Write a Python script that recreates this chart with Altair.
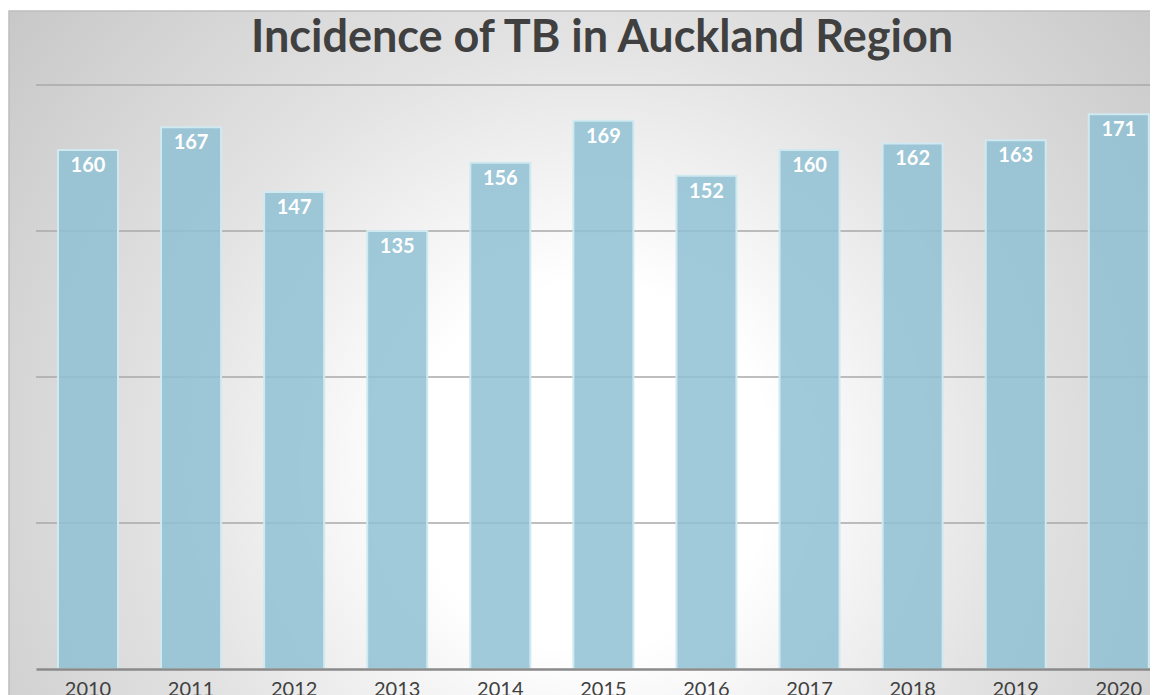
import altair as alt
import pandas as pd

# ---- data ----
years = ["2010", "2011", "2012", "2013", "2014", "2015", "2016", "2017", "2018", "2019", "2020"]
cases = [160, 167, 147, 135, 156, 169, 152, 160, 162, 163, 171]
grid_values = [45, 90, 135, 180]
y_domain = [0, 180]
title_text = "Incidence of TB in Auckland Region"

W = 1114
H = 584

df = pd.DataFrame({"year": years, "cases": cases})
grid_df = pd.DataFrame({"v": grid_values})

x_scale = alt.Scale(domain=years, paddingInner=0.418, paddingOuter=0.1125, align=0.948, round=False)
y_scale = alt.Scale(domain=y_domain, nice=False, zero=True)

x_axis = alt.Axis(
    labelAngle=0, labelFont="Lato", labelFontSize=20, labelColor="#404040",
    ticks=False, domainColor="#8a8a8a", domainWidth=2.5, labelPadding=10,
    grid=False, zindex=1, title=None,
)

bg_fill = {
    "gradient": "radial",
    "x1": 0.4648, "y1": 0.56, "r1": 0,
    "x2": 0.4648, "y2": 0.56, "r2": 0.608,
    "stops": [
        {"offset": 0.0, "color": "#ffffff"},
        {"offset": 0.24, "color": "#ffffff"},
        {"offset": 0.56, "color": "#e3e3e3"},
        {"offset": 1.0, "color": "#c6c6c6"},
    ],
}

bg = alt.Chart(alt.Data(values=[{"a": 1}])).mark_rect(
    fill=bg_fill, stroke="#bdbdbd", strokeWidth=1.5
).encode(
    x=alt.value(-27), x2=alt.value(1223), y=alt.value(-74), y2=alt.value(686)
)

title = alt.Chart(alt.Data(values=[{"a": 1}])).mark_text(
    font="Lato", fontSize=45, fontWeight="bold", color="#404040",
    align="center", baseline="alphabetic",
).encode(
    x=alt.value(566), y=alt.value(-33), text=alt.value(title_text)
)

rules = alt.Chart(grid_df).mark_rule(color="#a9a9a9", strokeWidth=1.6).encode(
    y=alt.Y("v:Q", scale=y_scale, axis=None)
)

bars = alt.Chart(df).mark_bar(
    fill="#8fbfd2", fillOpacity=0.85, stroke="#d0e9f1", strokeWidth=2
).encode(
    x=alt.X("year:N", scale=x_scale, sort=years, axis=x_axis),
    y=alt.Y("cases:Q", scale=y_scale, axis=None),
)

labels = alt.Chart(df).mark_text(
    font="Lato", fontSize=20, fontWeight="bold", color="white", baseline="alphabetic", dy=22
).encode(
    x=alt.X("year:N", scale=x_scale, sort=years, axis=x_axis),
    y=alt.Y("cases:Q", scale=y_scale, axis=None),
    text="cases:Q",
)

chart = alt.layer(bg, title, rules, bars, labels).properties(
    width=W,
    height=H,
    autosize=alt.AutoSizeParams(type="none"),
    padding={"left": 28, "top": 77, "right": 0, "bottom": 30},
).configure_view(stroke=None)

chart.save("out.html", embed_options={"renderer": "svg", "actions": False})
